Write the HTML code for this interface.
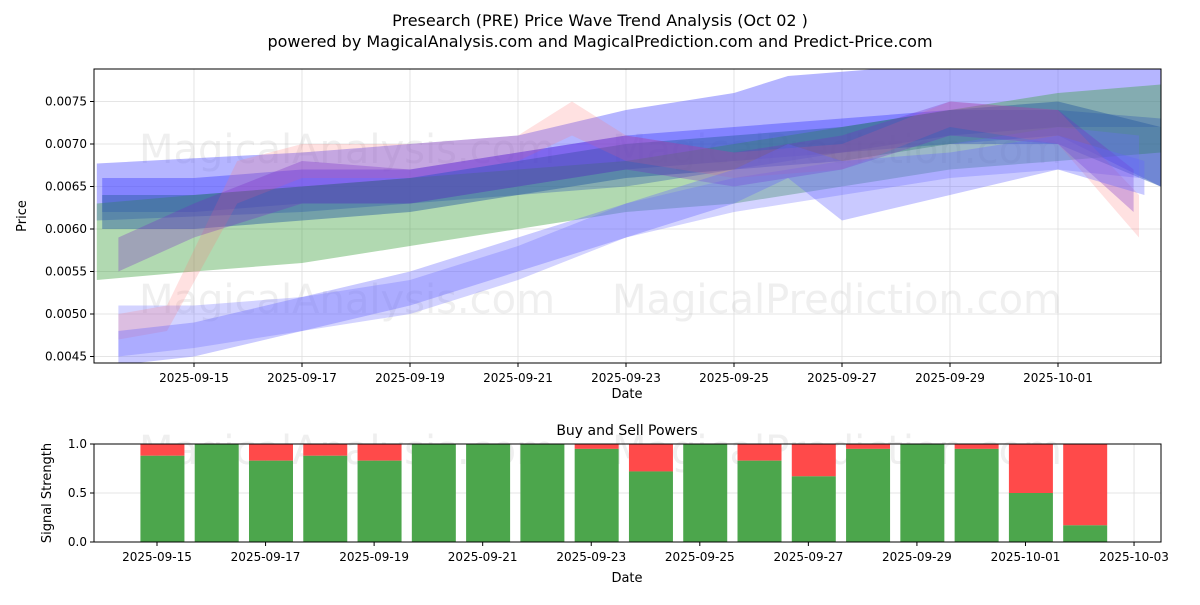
<!DOCTYPE html>
<html><head><meta charset="utf-8"><style>
body{margin:0;background:#fff;font-family:"Liberation Sans","DejaVu Sans",sans-serif}
svg text{font-family:"DejaVu Sans","Liberation Sans",sans-serif}
</style></head><body>
<svg id="c" width="1200" height="600" viewBox="0 0 1200 600" xmlns="http://www.w3.org/2000/svg">
<rect width="1200" height="600" fill="#fff"/>
<text x="600" y="26" text-anchor="middle" font-size="16">Presearch (PRE) Price Wave Trend Analysis (Oct 02 )</text>
<text x="600" y="47" text-anchor="middle" font-size="16">powered by MagicalAnalysis.com and MagicalPrediction.com and Predict-Price.com</text>
<g id="topPanel"></g>
<g id="botPanel"></g>
</svg>
<script>
// ---- price wave data (day of Sept; Oct 1 = 31) ----
const bandDays = [
 [13.2,17,19,21,23,25,26,28,29,31,32.9],
 [13.3,15,17,19,21,23,25,27,29,31,32.9],
 [13.2,15,17,19,21,23,25,27,29,31,32.9],
 [13.3,15,17,19,21,23,25,27,29,31,32.9],
 [13.6,15,17,19,21,23,25,27,29,31,32.5],
 [13.6,14.5,15.8,17,19,21,22,23,25,27,29,31,32.5],
 [13.6,15,17,19,21,23,25,27,29,31,32.4],
 [13.6,15,17,19,21,23,25,26,27,29,31,32.6]
];
const bandUpper = [
 [0.00677,0.0069,0.0070,0.0071,0.0074,0.0076,0.0078,0.0079,0.0080,0.0080,0.0080],
 [0.0066,0.0066,0.0067,0.0067,0.0069,0.0071,0.0072,0.0073,0.0074,0.0074,0.0073],
 [0.0063,0.0064,0.0065,0.0066,0.0067,0.0068,0.0070,0.0072,0.0074,0.0076,0.0077],
 [0.0064,0.0064,0.0065,0.0066,0.0068,0.0070,0.0071,0.0072,0.0074,0.0075,0.0072],
 [0.0051,0.0051,0.0052,0.0054,0.0058,0.0063,0.0066,0.0068,0.0070,0.0072,0.0071],
 [0.0050,0.0051,0.0068,0.0070,0.0070,0.0071,0.0075,0.0071,0.0069,0.0070,0.0075,0.0074,0.0064],
 [0.0059,0.0063,0.0068,0.0067,0.0069,0.0071,0.0069,0.0071,0.0075,0.0074,0.0067],
 [0.0048,0.0049,0.0052,0.0055,0.0059,0.0063,0.0067,0.0070,0.0068,0.0069,0.0071,0.0068]
];
const bandLower = [
 [0.0061,0.0062,0.0063,0.0064,0.0065,0.0067,0.0068,0.0070,0.0071,0.0072,0.0072],
 [0.0062,0.0062,0.0063,0.0063,0.0065,0.0067,0.0068,0.0069,0.0070,0.0071,0.0065],
 [0.0054,0.0055,0.0056,0.0058,0.0060,0.0062,0.0063,0.0065,0.0067,0.0068,0.0069],
 [0.0060,0.0060,0.0061,0.0062,0.0064,0.0066,0.0067,0.0068,0.0070,0.0070,0.0065],
 [0.0045,0.0046,0.0048,0.0050,0.0054,0.0059,0.0062,0.0064,0.0066,0.0067,0.0066],
 [0.0047,0.0048,0.0063,0.0066,0.0066,0.0068,0.0071,0.0068,0.0066,0.0067,0.0072,0.0070,0.0059],
 [0.0055,0.0059,0.0063,0.0063,0.0065,0.0067,0.0065,0.0067,0.0071,0.0070,0.0062],
 [0.0044,0.0045,0.0048,0.0051,0.0055,0.0059,0.0063,0.0066,0.0061,0.0064,0.0067,0.0064]
];
const bandColors = ["rgba(90,90,255,0.45)","rgba(70,70,255,0.45)","rgba(60,160,60,0.4)","rgba(40,90,160,0.45)","rgba(110,110,255,0.3)","rgba(255,120,120,0.22)","rgba(120,40,200,0.3)","rgba(100,100,255,0.35)"];
const yTicks = [0.0045,0.0050,0.0055,0.0060,0.0065,0.0070,0.0075];
const yTickLabels = ["0.0045","0.0050","0.0055","0.0060","0.0065","0.0070","0.0075"];
const xTickDays = [15,17,19,21,23,25,27,29,31];
const xTickLabels = ["2025-09-15","2025-09-17","2025-09-19","2025-09-21","2025-09-23","2025-09-25","2025-09-27","2025-09-29","2025-10-01"];
// ---- buy/sell data ----
const barDays = [15,16,17,18,19,20,21,22,23,24,25,26,27,28,29,30,31,32];
const buyPower = [0.88,1,0.83,0.88,0.83,1,1,1,0.95,0.72,1,0.83,0.67,0.95,1,0.95,0.5,0.17];
const bTickDays = [15,17,19,21,23,25,27,29,31,33];
const bTickLabels = ["2025-09-15","2025-09-17","2025-09-19","2025-09-21","2025-09-23","2025-09-25","2025-09-27","2025-09-29","2025-10-01","2025-10-03"];
const bYTicks = [0,0.5,1];
const bYLabels = ["0.0","0.5","1.0"];

const NS="http://www.w3.org/2000/svg";
function mk(p,t,a){const e=document.createElementNS(NS,t);for(const k in a)e.setAttribute(k,a[k]);p.appendChild(e);return e;}
const topG=document.getElementById('topPanel'), botG=document.getElementById('botPanel');
const X=d=>194+(d-15)*54, Y=v=>144-(v-0.007)*85000;
const L=94,R=1161,T=69,B=363;
const clip=mk(topG,'clipPath',{id:'cp'});mk(clip,'rect',{x:L,y:T,width:R-L,height:B-T});
yTicks.forEach((v,i)=>{
 const g=mk(topG,'line',{x1:L,x2:R,y1:Y(v),y2:Y(v),stroke:'#ddd','stroke-width':0.8});
 
 
 mk(topG,'line',{x1:L-4,x2:L,y1:Y(v),y2:Y(v),stroke:'#000'});
 const t=mk(topG,'text',{x:L-7,y:Y(v)+4,'text-anchor':'end','font-size':12});t.textContent=yTickLabels[i];
 
 
});
xTickDays.forEach((d,i)=>{
 mk(topG,'line',{x1:X(d),x2:X(d),y1:T,y2:B,stroke:'#ddd','stroke-width':0.8});
 mk(topG,'line',{x1:X(d),x2:X(d),y1:B,y2:B+4,stroke:'#000'});
 const t=mk(topG,'text',{x:X(d),y:B+19,'text-anchor':'middle','font-size':12});t.textContent=xTickLabels[i];
 
 
});
[[347,163,"MagicalAnalysis.com"],[837,163,"MagicalPrediction.com"],[347,313,"MagicalAnalysis.com"],[837,313,"MagicalPrediction.com"],[347,464,"MagicalAnalysis.com"],[837,464,"MagicalPrediction.com"]].forEach(w=>{
 const t=mk(topG,'text',{x:w[0],y:w[1],'text-anchor':'middle','font-size':40,fill:'rgba(160,160,160,0.17)'});t.textContent=w[2];
 
 
});
const bands=mk(topG,'g',{'clip-path':'url(#cp)'});
bandDays.forEach((ds,i)=>{
 const pts=ds.map((d,j)=>X(d)+','+Y(bandUpper[i][j])).concat(ds.map((d,j)=>X(d)+','+Y(bandLower[i][j])).reverse());
 const p=mk(bands,'polygon',{points:pts.join(' '),fill:bandColors[i]});
 
 
});
mk(topG,'rect',{x:L,y:T,width:R-L,height:B-T,fill:'none',stroke:'#000','stroke-width':1});
let t=mk(topG,'text',{x:627,y:398,'text-anchor':'middle','font-size':13});t.textContent='Date';


t=mk(topG,'text',{x:26,y:216,'text-anchor':'middle','font-size':13,transform:'rotate(-90 26 216)'});t.textContent='Price';



const BX=d=>157+(d-15)*54.28, BY=v=>542-v*98;
const bL=94,bR=1161,bT=444,bB=542;
bYTicks.forEach((v,i)=>{
 mk(botG,'line',{x1:bL,x2:bR,y1:BY(v),y2:BY(v),stroke:'#ddd','stroke-width':0.8});
 mk(botG,'line',{x1:bL-4,x2:bL,y1:BY(v),y2:BY(v),stroke:'#000'});
 const tt=mk(botG,'text',{x:bL-7,y:BY(v)+4,'text-anchor':'end','font-size':12});tt.textContent=bYLabels[i];
 
 
});
bTickDays.forEach((d,i)=>{
 mk(botG,'line',{x1:BX(d),x2:BX(d),y1:bT,y2:bB,stroke:'#ddd','stroke-width':0.8});
 mk(botG,'line',{x1:BX(d),x2:BX(d),y1:bB,y2:bB+4,stroke:'#000'});
 const tt=mk(botG,'text',{x:BX(d),y:bB+19,'text-anchor':'middle','font-size':12});tt.textContent=bTickLabels[i];
 
 
});
barDays.forEach((d,i)=>{
 const cx=BX(d+0.1), w=44;
 const s=mk(botG,'rect',{x:cx-w/2,y:BY(1),width:w,height:BY(buyPower[i])-BY(1),fill:'#ff4a4a'});
 
 
 const b=mk(botG,'rect',{x:cx-w/2,y:BY(buyPower[i]),width:w,height:BY(0)-BY(buyPower[i]),fill:'#4ca64c'});
 
 
});
mk(botG,'rect',{x:bL,y:bT,width:bR-bL,height:bB-bT,fill:'none',stroke:'#000','stroke-width':1});
t=mk(botG,'text',{x:627,y:435,'text-anchor':'middle','font-size':14});t.textContent='Buy and Sell Powers';


t=mk(botG,'text',{x:627,y:582,'text-anchor':'middle','font-size':13});t.textContent='Date';


t=mk(botG,'text',{x:51,y:493,'text-anchor':'middle','font-size':13,transform:'rotate(-90 51 493)'});t.textContent='Signal Strength';


</script>
</body></html>
